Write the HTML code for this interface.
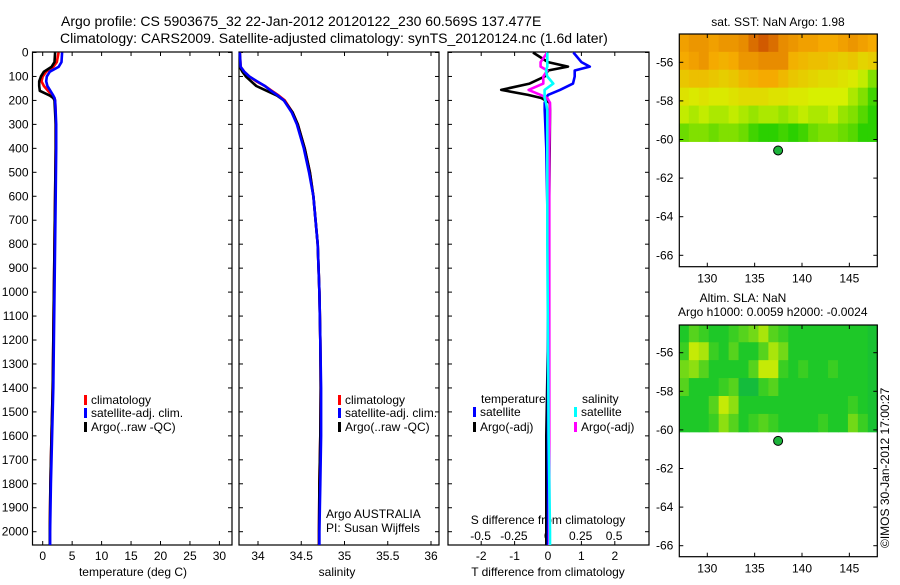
<!DOCTYPE html>
<html><head><meta charset="utf-8">
<style>
html,body{margin:0;padding:0;background:#fff;}
body{width:900px;height:580px;overflow:hidden;font-family:"Liberation Sans",Arial,sans-serif;}
svg text{font-family:"Liberation Sans",Arial,sans-serif;fill:#000;}
</style></head>
<body>
<svg id="fig" width="900" height="580" xmlns="http://www.w3.org/2000/svg">
<text x="61" y="26" font-size="14">Argo profile: CS 5903675_32 22-Jan-2012 20120122_230 60.569S 137.477E</text>
<text x="60" y="43" font-size="14">Climatology: CARS2009. Satellite-adjusted climatology: synTS_20120124.nc (1.6d later)</text>
<text x="778" y="26" font-size="12" text-anchor="middle">sat. SST: NaN Argo: 1.98</text>
<text x="743" y="302" font-size="12" text-anchor="middle">Altim. SLA: NaN</text>
<text x="678" y="316" font-size="12">Argo h1000: 0.0059 h2000: -0.0024</text>
<text transform="translate(889,548) rotate(-90)" font-size="12">©IMOS 30-Jan-2012 17:00:27</text>
<g id="g"></g>
</svg>
<script>
// ---- data ----
var depthTicks = [0,100,200,300,400,500,600,700,800,900,1000,1100,1200,1300,1400,1500,1600,1700,1800,1900,2000];
var tempTicks = [0,5,10,15,20,25,30];
var salTicks = [34,34.5,35,35.5,36];
var salTickLabels = ["34","34.5","35","35.5","36"];
var tdTicks = [-2,-1,0,1,2];
var sdTicks = [-0.5,-0.25,0,0.25,0.5];
var sdTickLabels = ["-0.5","-0.25","0","0.25","0.5"];
var latTicks = [-56,-58,-60,-62,-64,-66];
var lonTicks = [130,135,140,145];

var depthsT = [0,40,60,80,100,120,140,160,180,190,200,250,300,400,600,800,1000,1200,1400,1600,1800,2000,2060];
var argoT = [2.1,2.0,1.5,0.2,-0.3,-0.6,-0.6,-0.5,1.2,1.8,2.0,2.1,2.2,2.2,2.1,2.0,1.9,1.8,1.7,1.5,1.3,1.2,1.2];
var climT = [2.7,2.4,1.8,0.6,0.0,-0.2,0.2,0.9,1.7,2.0,2.1,2.2,2.2,2.2,2.1,2.0,1.9,1.8,1.7,1.5,1.3,1.2,1.2];
var satT  = [3.3,3.2,2.7,1.2,0.7,0.6,0.8,1.3,1.8,2.0,2.1,2.2,2.3,2.3,2.2,2.1,2.0,1.9,1.8,1.6,1.4,1.25,1.25];

var depthsS = [0,60,80,100,120,140,160,180,200,250,300,400,500,600,800,1000,1200,1400,1600,1800,2000,2060];
var argoS = [33.79,33.79,33.82,33.86,33.92,33.98,34.10,34.22,34.30,34.40,34.46,34.54,34.60,34.64,34.69,34.71,34.72,34.725,34.72,34.71,34.705,34.705];
var climS = [33.79,33.80,33.84,33.90,33.98,34.08,34.16,34.24,34.31,34.40,34.46,34.54,34.60,34.64,34.69,34.71,34.72,34.725,34.72,34.71,34.705,34.705];
var satS  = [33.79,33.80,33.84,33.90,33.99,34.08,34.15,34.23,34.30,34.39,34.45,34.53,34.59,34.64,34.69,34.71,34.72,34.73,34.73,34.72,34.71,34.71];

var depthsD = [0,40,59,75,100,130,156,177,190,210,240,400,800,1200,1600,2000,2060];
var argoTd = [-0.45,0.0,0.6,0.0,-0.1,-0.55,-1.4,-0.6,-0.2,0.05,0.06,0.05,0.02,0.0,-0.05,-0.05,-0.05];
var satTd  = [0.76,1.0,1.25,0.8,0.8,0.75,0.36,0.0,-0.05,-0.1,-0.1,-0.05,0.0,0.0,0.0,0.0,0.0];
var argoSd = [0,-0.05,-0.05,0,-0.03,-0.03,-0.14,-0.05,0,0.02,0.02,0.015,0.015,0.015,0.015,0.015,0.015];
var satSd  = [0,0,0,-0.01,0.0,0.045,-0.02,-0.02,-0.02,-0.01,0,0,0,0.005,0.01,0.02,0.02];

var sstGrid = [
[2.1,2.2,2.2,2.1,2.2,2.2,2.3,2.6,2.8,2.6,2.3,2.2,2.1,2.1,2.0,2.0,2.1,2.2,2.1,2.0],
[2.0,2.1,2.2,2.0,1.9,2.0,2.2,2.2,2.3,2.3,2.3,1.9,1.8,1.7,1.7,1.6,1.5,1.6,1.4,1.5],
[1.6,1.7,1.7,1.6,1.5,1.6,1.8,1.9,2.0,2.0,1.8,1.6,1.5,1.4,1.3,1.3,1.2,1.1,0.9,0.6],
[1.2,1.1,1.2,1.1,1.1,1.2,1.3,1.3,1.3,1.2,1.2,1.1,1.1,1.0,1.0,1.0,1.0,0.8,0.6,0.3],
[0.9,0.8,0.9,0.8,0.8,0.9,0.8,0.7,0.8,0.8,0.7,0.8,0.9,0.8,0.8,0.9,0.7,0.6,0.4,0.2],
[0.5,0.6,0.6,0.5,0.6,0.6,0.5,0.3,0.2,0.2,0.3,0.2,0.3,0.5,0.6,0.6,0.5,0.4,0.2,0.2]];
var slaGrid = [
[0.3,0.5,0.4,0.3,0.3,0.4,0.5,0.6,0.8,0.5,0.4,0.3,0.3,0.3,0.3,0.3,0.3,0.3,0.3,0.25],
[0.4,0.9,0.8,0.4,0.3,0.5,0.3,0.3,0.5,0.8,0.6,0.3,0.3,0.3,0.3,0.3,0.3,0.3,0.3,0.25],
[0.6,0.7,0.5,0.3,0.3,0.3,0.3,0.5,0.9,0.9,0.4,0.3,0.4,0.3,0.3,0.4,0.3,0.3,0.3,0.25],
[0.5,0.3,0.3,0.3,0.4,0.5,0.2,0.2,0.4,0.5,0.3,0.3,0.3,0.3,0.3,0.3,0.3,0.3,0.3,0.25],
[0.3,0.3,0.3,0.5,0.9,0.7,0.3,0.3,0.3,0.3,0.3,0.3,0.3,0.3,0.3,0.3,0.3,0.4,0.3,0.25],
[0.3,0.3,0.3,0.4,0.7,0.5,0.3,0.4,0.5,0.4,0.3,0.3,0.3,0.3,0.4,0.3,0.3,0.6,0.4,0.25]];
var floatLon = 137.477, floatLat = -60.569;
var gridLon0 = 127, gridLon1 = 148, gridLat0 = -54.53, gridLat1 = -60.1;

// ---- helpers ----
var NS = "http://www.w3.org/2000/svg";
var G = document.getElementById('g');
function mk(tag, attrs, parent){var e=document.createElementNS(NS,tag);for(var k in attrs)e.setAttribute(k,attrs[k]);(parent||G).appendChild(e);return e;}
function txt(x,y,s,size,anchor,name){var t=mk('text',{x:x,y:y,'font-size':size||12,'text-anchor':anchor||'start'});t.textContent=s;


return t;}
var yD = function(d){return 52.5 + d*0.2396;};

function frame(x0,x1,y0,y1,name){
  var r=mk('rect',{x:x0,y:y0,width:x1-x0,height:y1-y0,fill:'none',stroke:'#000','stroke-width':1.2});
  
  
}
function depthAxis(x0,x1,labels){
  depthTicks.forEach(function(d){
    var y=yD(d);
    mk('line',{x1:x0,y1:y,x2:x0+4,y2:y,stroke:'#000'});
    mk('line',{x1:x1,y1:y,x2:x1-4,y2:y,stroke:'#000'});
    if(labels) txt(x0-4,y+4,String(d),12,'end','depth-tick-label');
  });
}
function xTicks(vals,labs,fx,yTop,yBot,yLab,name){
  vals.forEach(function(v,i){
    var x=fx(v);
    if(yTop!==null) mk('line',{x1:x,y1:yTop,x2:x,y2:yTop+4,stroke:'#000'});
    if(yBot!==null) mk('line',{x1:x,y1:yBot,x2:x,y2:yBot-4,stroke:'#000'});
    if(yLab!==null) txt(x,yLab,labs[i],12,'middle',name);
  });
}
function line(xs,ds,fx,color,name,w){
  var p=xs.map(function(v,i){return fx(v).toFixed(1)+','+Math.min(545,yD(ds[i])).toFixed(1);}).join(' ');
  var e=mk('polyline',{points:p,fill:'none',stroke:color,'stroke-width':w||2.6,'stroke-linejoin':'round'});
  
  
}
function legendItem(x,y,color,label,name){
  mk('rect',{x:x,y:y-9,width:3,height:10,fill:color});
  var t=txt(x+7,y,label,12,'start',name);
}

// ---- panel 1: temperature ----
var fT=function(t){return 42.7+5.89*t;};
frame(32.5,232,52,545,'temperature-axes');
depthAxis(32.5,232,true);
xTicks(tempTicks,tempTicks.map(String),fT,52,545,560,'temperature-tick-label');
txt(133,576,'temperature (deg C)',12,'middle','temperature-axis-title');
line(climT,depthsT,fT,'#f00','climatology-temp-line');
line(argoT,depthsT,fT,'#000','argo-temp-line');
line(satT,depthsT,fT,'#00f','satellite-temp-line');
legendItem(84,404,'#f00','climatology','legend-climatology');
legendItem(84,417,'#00f','satellite-adj. clim.','legend-satellite');
legendItem(84,431,'#000','Argo(..raw -QC)','legend-argo');

// ---- panel 2: salinity ----
var fS=function(s){return 258+86.5*(s-34);};
frame(239,439,52,545,'salinity-axes');
depthAxis(239,439,false);
xTicks(salTicks,salTickLabels,fS,52,545,560,'salinity-tick-label');
txt(337,576,'salinity',12,'middle','salinity-axis-title');
line(climS,depthsS,fS,'#f00','climatology-salinity-line');
line(argoS,depthsS,fS,'#000','argo-salinity-line');
line(satS,depthsS,fS,'#00f','satellite-salinity-line');
legendItem(338,404,'#f00','climatology','legend-climatology-s');
legendItem(338,417,'#00f','satellite-adj. clim.','legend-satellite-s');
legendItem(338,431,'#000','Argo(..raw -QC)','legend-argo-s');
txt(326,518,'Argo AUSTRALIA',12,'start','argo-australia-label');
txt(326,532,'PI: Susan Wijffels',12,'start','pi-label');

// ---- panel 3: differences ----
var fTd=function(v){return 548+33.4*v;};
var fSd=function(v){return 547.3+133.5*v;};
frame(448,649,52,545,'difference-axes');
depthAxis(448,649,false);
xTicks(tdTicks,tdTicks.map(String),fTd,52,545,560,'t-diff-tick-label');
xTicks(sdTicks,sdTickLabels,fSd,null,null,540,'s-diff-tick-label');
txt(548,524,'S difference from climatology',12,'middle','s-diff-axis-title');
txt(548,576,'T difference from climatology',12,'middle','t-diff-axis-title');
line(argoTd,depthsD,fTd,'#000','argo-temp-diff-line');
line(satTd,depthsD,fTd,'#00f','satellite-temp-diff-line');
line(argoSd,depthsD,fSd,'#f0f','argo-salinity-diff-line');
line(satSd,depthsD,fSd,'#0ff','satellite-salinity-diff-line');
txt(481,403,'temperature',12,'start','legend-temperature-header');
legendItem(473,416,'#00f','satellite','legend-temp-satellite');
legendItem(473,431,'#000','Argo(-adj)','legend-temp-argo');
txt(582,403,'salinity',12,'start','legend-salinity-header');
legendItem(574,416,'#0ff','satellite','legend-sal-satellite');
legendItem(574,431,'#f0f','Argo(-adj)','legend-sal-argo');

// ---- maps ----
function lerp(a,b,t){return [0,1,2].map(function(i){return Math.round(a[i]+(b[i]-a[i])*t);});}
function sstColor(v){
  var stops=[[0,200,0],[215,240,0],[245,170,0],[200,70,0]];
  var i=Math.min(2,Math.floor(v)); var c=lerp(stops[i],stops[i+1],Math.max(0,Math.min(1,v-i)));
  return 'rgb('+c.join(',')+')';
}
function slaColor(v){
  var c = v<0.3 ? lerp([0,165,100],[30,200,40],v/0.3) : lerp([30,200,40],[225,240,0],(v-0.3)/0.7);
  return 'rgb('+c.join(',')+')';
}
function drawMap(top,bottom,latRef,grid,colorFn,name){
  var x0=679.3,x1=877.3;
  var fx=function(lon){return 707.3+(lon-130)*9.47;};
  var fy=function(lat){return latRef+(-56-lat)*19.3;};
  var g=mk('g',{});
  
  
  var rows=grid.length, cols=grid[0].length;
  var dLon=(gridLon1-gridLon0)/cols, dLat=(gridLat0-gridLat1)/rows;
  grid.forEach(function(row,r){row.forEach(function(v,c){
    var xa=Math.max(x0,fx(gridLon0+c*dLon)), xb=Math.min(x1,fx(gridLon0+(c+1)*dLon));
    var ya=Math.max(top,fy(gridLat0-r*dLat)), yb=fy(gridLat0-(r+1)*dLat);
    var cell=mk('rect',{x:xa,y:ya,width:xb-xa+0.5,height:yb-ya+0.5,fill:colorFn(v)},g);
    
    
  });});
  var f=mk('rect',{x:x0,y:top,width:x1-x0,height:bottom-top,fill:'none',stroke:'#000','stroke-width':1.2});
  
  
  latTicks.forEach(function(l){var y=fy(l);
    mk('line',{x1:x0,y1:y,x2:x0+4,y2:y,stroke:'#000'});mk('line',{x1:x1,y1:y,x2:x1-4,y2:y,stroke:'#000'});
    txt(x0-6,y+4,String(l),12,'end','latitude-tick-label');});
  lonTicks.forEach(function(l){var x=fx(l);
    mk('line',{x1:x,y1:top,x2:x,y2:top+4,stroke:'#000'});mk('line',{x1:x,y1:bottom,x2:x,y2:bottom-4,stroke:'#000'});
    txt(x,bottom+16,String(l),12,'middle','longitude-tick-label');});
  var dot=mk('circle',{cx:fx(floatLon),cy:fy(floatLat),r:4.5,fill:'#1db33a',stroke:'#000','stroke-width':1});
  
  
}
drawMap(34,266.7,62.3,sstGrid,sstColor,'sst-map');
drawMap(325,556.7,352.7,slaGrid,slaColor,'sla-map');
</script>
</body></html>
